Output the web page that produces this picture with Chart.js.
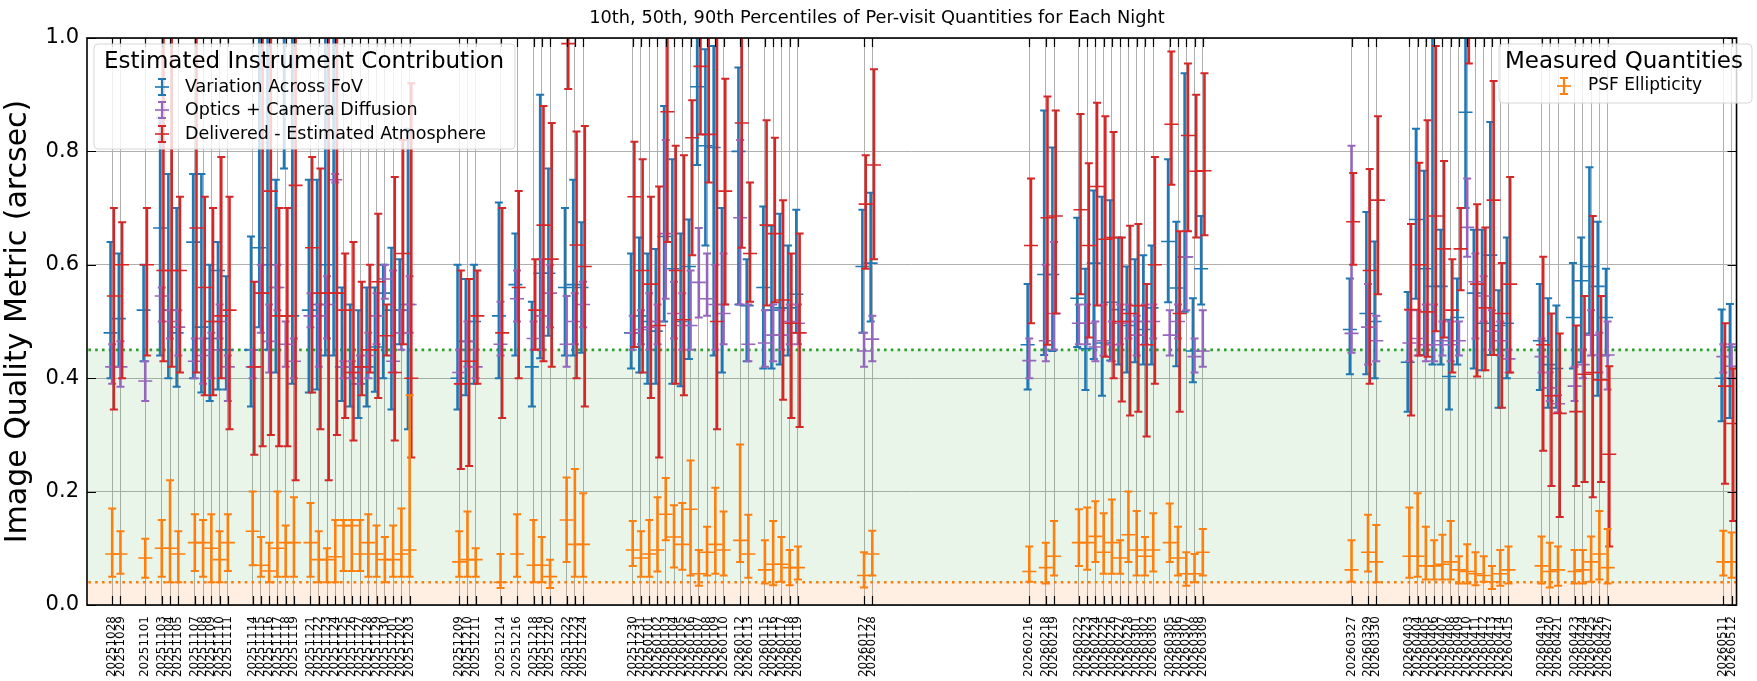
<!DOCTYPE html>
<html>
<head>
<meta charset="utf-8">
<title>Per-visit Quantities for Each Night</title>
<style>
  html, body { margin: 0; padding: 0; background: #fff; }
  #wrap { position: relative; width: 1757px; height: 681px; }
</style>
</head>
<body>
<div id="wrap"><canvas id="chart" width="1757" height="681"></canvas></div>

<script src="https://cdn.jsdelivr.net/npm/chart.js"></script>
<script>
  // nights (dayobs) shown on the x axis
  const nights = [
    "20251028","20251029","20251101","20251103","20251104","20251105","20251107","20251108","20251109","20251110","20251111",
    "20251114","20251115","20251116","20251117","20251118","20251119",
    "20251121","20251122","20251123","20251124","20251125","20251126","20251127","20251128","20251129","20251130","20251201","20251202","20251203",
    "20251209","20251210","20251211","20251214","20251216","20251218","20251219","20251220","20251222","20251223","20251224",
    "20251230","20251231","20260101","20260102","20260103","20260104","20260105","20260106","20260107","20260108","20260109","20260110",
    "20260112","20260113","20260115","20260116","20260117","20260118","20260119","20260127","20260128",
    "20260216","20260218","20260219","20260222","20260223","20260224","20260225","20260226","20260227","20260228","20260301","20260302","20260303",
    "20260305","20260306","20260307","20260308","20260309",
    "20260327","20260329","20260330","20260403","20260404","20260405","20260406","20260407","20260408","20260409","20260410","20260411","20260412","20260413","20260414","20260415",
    "20260419","20260420","20260421","20260423","20260424","20260425","20260426","20260427","20260511","20260512"
  ];

  // Variation Across FoV: 10th / 50th / 90th percentiles
  const fovLo = [.40,.42,.43,.44,.40,.385,.40,.375,.36,.38,.38, .35,.49,.45,.41,.77,.39,
    .375,.38,.44,.44,.36,.35,.33,.35,.376,.40,.345,.46,.31, .345,.37,.39,.40,.44,.35,.435,.475,.44,.44,.445,
    .417,.41,.39,.39,.50,.39,.386,.434,.776,.634,.44,.41, .53,.43,.417,.417,.424,.44,.48,.48,.50,
    .38,.441,.448,.455,.379,.434,.369,.431,.424,.41,.428,.424,.424, .534,.421,.517,.393,.53,
    .407,.407,.40,.341,.54,.441,.424,.424,.345,.424,.70,.417,.414,.441,.348,.40,
    .379,.348,.348,.417,.428,.479,.369,.44,.324,.33];
  const fovMed = [.48,.505,.52,.665,.52,.48,.64,.49,.47,.59,.45, .45,.63,.60,.56,1.05,.51,
    .52,.53,.60,.55,.42,.40,.39,.42,.455,.55,.52,.52,.53, .40,.465,.50,.51,.565,.42,.585,.585,.56,.565,.56,
    .48,.51,.50,.483,.65,.593,.50,.597,.914,.81,.807,.53, .80,.528,.56,.52,.524,.524,.548,.597,.603,
    .459,.583,.583,.541,.452,.603,.462,.534,.521,.493,.50,.486,.524, .641,.559,.614,.448,.593,
    .486,.514,.50,.428,.68,.593,.562,.562,.403,.507,.869,.55,.497,.617,.493,.497,
    .466,.424,.417,.507,.572,.597,.562,.507,.40,.455];
  const fovHi = [.64,.62,.60,.86,.76,.70,.76,.76,.60,.64,.58, .65,1.1,1.1,.75,1.1,1.1,
    .75,.75,1.1,1.1,.56,.53,.52,.56,.56,.60,.63,.61,.84, .60,.575,.60,.71,.655,.535,.90,.77,.70,.75,.675,
    .62,.648,.62,.628,.88,.786,.655,.68,1.1,.98,.986,.70, .948,.61,.703,.669,.69,.634,.697,.697,.727,
    .566,.872,.807,.683,.593,.731,.72,.714,.648,.597,.61,.617,.634, .786,.676,.938,.541,.686,
    .576,.693,.641,.552,.84,.766,1.1,.662,.503,.576,1.1,.662,.662,.852,.555,.648,
    .566,.541,.528,.603,.648,.772,.676,.593,.521,.531];

  // Optics + Camera Diffusion
  const optLo = [.39,.385,.36,.50,.47,.44,.40,.39,.40,.47,.36, .40,.48,.41,.52,.42,.40,
    .49,.42,.47,.745,.40,.40,.39,.40,.46,.54,.41,.45,.48, .39,.42,.40,.44,.50,.45,.45,.49,.42,.46,.49,
    .45,.46,.45,.46,.54,.47,.45,.45,.507,.51,.45,.46, .53,.43,.42,.43,.45,.46,.46,.42,.43,
    .40,.43,.45,.46,.46,.43,.44,.43,.46,.47,.44,.46,.47, .44,.47,.52,.41,.42,
    .445,.424,.43,.43,.44,.43,.43,.44,.43,.44,.614,.47,.50,.45,.44,.41,
    .41,.36,.34,.36,.40,.44,.41,.38,.41,.40];
  const optMed = [.42,.42,.395,.545,.50,.49,.43,.44,.45,.50,.42, .42,.55,.465,.56,.46,.43,
    .51,.51,.53,.75,.42,.41,.42,.44,.51,.575,.43,.48,.53, .41,.465,.42,.46,.54,.47,.51,.55,.46,.50,.53,
    .48,.486,.49,.50,.655,.514,.493,.493,.569,.54,.53,.514, .683,.46,.462,.476,.476,.50,.497,.448,.469,
    .431,.466,.514,.497,.497,.455,.466,.459,.497,.50,.476,.50,.50, .476,.50,.614,.438,.448,
    .479,.49,.466,.462,.47,.459,.459,.466,.459,.466,.666,.57,.545,.483,.466,.434,
    .438,.383,.355,.386,.424,.476,.441,.441,.438,.421];
  const optHi = [.46,.465,.43,.56,.52,.52,.47,.47,.48,.53,.44, .45,.60,.53,.60,.50,.47,
    .55,.53,.58,.76,.43,.43,.44,.48,.55,.60,.59,.52,.58, .45,.50,.45,.535,.59,.50,.61,.60,.545,.55,.57,
    .51,.52,.55,.53,.82,.57,.55,.59,.665,.62,.60,.62, .82,.53,.52,.53,.52,.53,.53,.48,.51,
    .47,.60,.64,.53,.53,.50,.53,.50,.53,.53,.51,.53,.53, .52,.53,.66,.47,.52,
    .81,.566,.51,.52,.52,.53,.53,.50,.50,.50,.752,.62,.58,.52,.50,.45,
    .47,.41,.37,.42,.45,.52,.48,.50,.46,.46];

  // Delivered - Estimated Atmosphere
  const delLo = [.345,.40,.44,.43,.42,.41,.41,.37,.37,.40,.31, .265,.28,.30,.28,.28,.22,
    .375,.31,.22,.30,.33,.29,.37,.41,.365,.44,.29,.46,.26, .24,.245,.39,.33,.40,.45,.43,.42,.91,.40,.35,
    .455,.41,.365,.26,.64,.39,.37,.617,.83,.745,.31,.53, .63,.535,.528,.534,.362,.33,.314,.593,.61,
    .497,.459,.514,.548,.472,.528,.438,.40,.359,.334,.341,.297,.39, .741,.341,.659,.648,.652,
    .60,.39,.548,.334,.44,.438,.483,.472,.41,.555,.955,.403,.414,.441,.348,.41,
    .272,.21,.155,.21,.217,.19,.217,.103,.214,.148];
  const delMed = [.545,.60,.60,.59,.59,.59,.665,.56,.50,.51,.52, .42,.55,.73,.51,.51,.74,
    .63,.55,.55,.55,.52,.41,.42,.45,.57,.475,.41,.62,.40, .39,.43,.51,.48,.56,.52,.67,.61,.99,.635,.597,
    .72,.59,.566,.493,.87,.59,.503,.824,.95,.83,.50,.73, .85,.62,.67,.655,.538,.497,.48,.707,.776,
    .634,.683,.686,.697,.634,.738,.645,.648,.50,.514,.528,.459,.60, .848,.514,.828,.765,.766,
    .676,.59,.714,.521,.60,.517,.686,.628,.52,.628,1.05,.566,.524,.714,.514,.566,
    .459,.369,.338,.341,.407,.41,.397,.266,.386,.32];
  const delHi = [.70,.675,.70,1.1,1.1,.72,1.1,.72,.70,.79,.72, .57,1.1,1.1,.70,.70,1.1,
    .79,.77,1.1,1.1,.62,.64,.57,.60,.69,.53,.755,.82,.92, .59,.575,.59,.70,.73,.61,.88,.85,1.1,.835,.845,
    .817,.786,.72,.738,1.1,.81,.793,.89,1.1,1.1,1.1,.928, 1.1,.745,.855,.824,.714,.62,.655,.793,.945,
    .752,.897,.872,.866,.779,.886,.862,.834,.648,.669,.672,.566,.79, .976,.659,.955,.90,.938,
    .762,.769,.862,.672,.78,.855,.986,.783,.61,.70,1.1,.707,.666,.924,.603,.755,
    .614,.514,.479,.493,.545,.686,.545,.421,.497,.417];

  // PSF Ellipticity
  const ellLo = [.05,.055,.048,.05,.04,.04,.06,.05,.04,.04,.06, .07,.05,.04,.05,.05,.05,
    .05,.04,.04,.04,.06,.06,.06,.05,.05,.04,.05,.05,.05, .05,.05,.05,.03,.05,.04,.04,.03,.076,.05,.05,
    .069,.05,.05,.059,.114,.066,.062,.052,.034,.052,.055,.052, .076,.048,.038,.035,.041,.035,.045,.031,.052,
    .041,.038,.052,.069,.062,.076,.055,.055,.055,.076,.052,.052,.059, .076,.052,.034,.04,.052,
    .041,.059,.04,.048,.05,.045,.045,.045,.045,.038,.038,.035,.041,.028,.034,.038,
    .038,.031,.034,.038,.038,.041,.045,.038,.052,.048];
  const ellMed = [.09,.09,.083,.10,.10,.09,.11,.11,.10,.08,.11, .13,.07,.06,.10,.11,.11,
    .11,.08,.08,.085,.14,.14,.09,.11,.09,.08,.08,.09,.097, .076,.08,.08,.04,.09,.07,.07,.05,.15,.107,.107,
    .097,.083,.09,.097,.16,.12,.107,.169,.055,.093,.107,.097, .114,.09,.062,.072,.072,.066,.066,.052,.09,
    .059,.066,.086,.11,.11,.121,.093,.11,.083,.124,.097,.086,.097, .11,.083,.055,.055,.093,
    .062,.093,.076,.086,.086,.069,.069,.072,.076,.062,.059,.055,.052,.041,.055,.062,
    .069,.059,.062,.059,.062,.076,.09,.066,.076,.076];
  const ellHi = [.17,.13,.117,.15,.22,.13,.16,.15,.16,.13,.16, .20,.12,.11,.20,.14,.19,
    .18,.13,.10,.15,.15,.15,.15,.16,.14,.12,.14,.17,.37, .13,.165,.10,.09,.16,.15,.12,.08,.225,.24,.197,
    .148,.13,.15,.19,.224,.176,.18,.255,.097,.138,.207,.165, .283,.159,.114,.148,.12,.097,.103,.093,.131,
    .103,.11,.148,.169,.172,.183,.162,.186,.114,.20,.166,.12,.162, .179,.138,.093,.09,.134,
    .114,.159,.141,.172,.197,.138,.114,.124,.148,.086,.107,.093,.086,.069,.097,.103,
    .121,.11,.103,.097,.097,.121,.166,.134,.131,.128];

  const yTicks = [0, 0.2, 0.4, 0.6, 0.8, 1.0];
  const goodLimit = 0.45;   // green dotted line
  const ellLimit = 0.04;    // orange dotted line

  const BLUE = '#1f77b4', PURPLE = '#9467bd', RED = '#d62728', ORANGE = '#ff7f0e', GREEN = '#2ca02c';
  const FONT = "'DejaVu Sans', 'Liberation Sans', sans-serif";

  Chart.defaults.font.family = FONT;
  Chart.defaults.color = '#000';

  function dayIndex(s) {
    const t = Date.UTC(+s.slice(0, 4), +s.slice(4, 6) - 1, +s.slice(6, 8));
    return Math.round((t - Date.UTC(2025, 9, 26)) / 86400000);
  }
  const days = nights.map(dayIndex);

  // one error bar series = vertical segments + caps + median ticks
  function errorbarSets(label, color, lo, med, hi, shift, order) {
    const xs = days.map(d => d + shift);
    const base = {
      label, order, clip: 0,
      borderColor: color, backgroundColor: color,
      pointBorderColor: color, pointBackgroundColor: color
    };
    return [
      Object.assign({}, base, {
        showLine: true, spanGaps: false, borderWidth: 2.6, pointRadius: 0, pointHoverRadius: 0,
        data: xs.flatMap((x, i) => [{ x, y: lo[i] }, { x, y: hi[i] }, { x, y: null }])
      }),
      Object.assign({}, base, {
        showLine: false, pointStyle: 'line', pointRadius: 4, pointHoverRadius: 4, pointBorderWidth: 2,
        data: xs.flatMap((x, i) => [{ x, y: lo[i] }, { x, y: hi[i] }])
      }),
      Object.assign({}, base, {
        showLine: false, pointStyle: 'line', pointRadius: 7, pointHoverRadius: 7, pointBorderWidth: 1.6,
        data: xs.map((x, i) => ({ x, y: med[i] }))
      })
    ];
  }

  const datasets = [
    {
      label: 'limit', order: 60, clip: 0, showLine: true, pointRadius: 0,
      data: [{ x: -5, y: goodLimit }, { x: 205, y: goodLimit }],
      borderColor: GREEN, borderWidth: 2.6, borderDash: [2.6, 4.2],
      fill: { value: ellLimit }, backgroundColor: 'rgba(44,160,44,0.11)'
    },
    {
      label: 'ell limit', order: 61, clip: 0, showLine: true, pointRadius: 0,
      data: [{ x: -5, y: ellLimit }, { x: 205, y: ellLimit }],
      borderColor: ORANGE, borderWidth: 2.6, borderDash: [2.6, 4.2],
      fill: 'origin', backgroundColor: 'rgba(255,127,14,0.12)'
    },
    ...errorbarSets('Variation Across FoV', BLUE, fovLo, fovMed, fovHi, -0.2, 40),
    ...errorbarSets('Optics + Camera Diffusion', PURPLE, optLo, optMed, optHi, 0, 30),
    ...errorbarSets('Delivered - Estimated Atmosphere', RED, delLo, delMed, delHi, 0.2, 20),
    ...errorbarSets('PSF Ellipticity', ORANGE, ellLo, ellMed, ellHi, 0, 10)
  ];

  function errIcon(ctx, x, y, color) {
    ctx.strokeStyle = color;
    ctx.lineWidth = 2.2;
    ctx.beginPath();
    ctx.moveTo(x, y - 8); ctx.lineTo(x, y + 8);
    ctx.moveTo(x - 4, y - 8); ctx.lineTo(x + 4, y - 8);
    ctx.moveTo(x - 4, y + 8); ctx.lineTo(x + 4, y + 8);
    ctx.stroke();
    ctx.lineWidth = 1.6;
    ctx.beginPath();
    ctx.moveTo(x - 7, y); ctx.lineTo(x + 7, y);
    ctx.stroke();
  }

  function legendBox(ctx, x, y, w, h) {
    ctx.beginPath();
    ctx.roundRect(x, y, w, h, 4);
    ctx.fillStyle = 'rgba(255,255,255,0.8)';
    ctx.fill();
    ctx.strokeStyle = '#d6d6d6';
    ctx.lineWidth = 1;
    ctx.stroke();
  }

  const decorations = {
    id: 'decorations',
    afterDatasetsDraw(chart) {
      const { ctx, chartArea: a, scales: { x, y } } = chart;
      ctx.save();
      ctx.strokeStyle = '#000';
      ctx.lineWidth = 1.2;
      ctx.beginPath();
      x.ticks.forEach(t => {
        const px = Math.round(x.getPixelForValue(t.value)) + 0.5;
        ctx.moveTo(px, a.top); ctx.lineTo(px, a.top + 9);
        ctx.moveTo(px, a.bottom); ctx.lineTo(px, a.bottom - 9);
      });
      y.ticks.forEach(t => {
        const py = Math.round(y.getPixelForValue(t.value)) + 0.5;
        ctx.moveTo(a.left, py); ctx.lineTo(a.left + 9, py);
        ctx.moveTo(a.right, py); ctx.lineTo(a.right - 9, py);
      });
      ctx.stroke();
      ctx.lineWidth = 1.6;
      ctx.strokeRect(a.left, a.top, a.right - a.left, a.bottom - a.top);
      ctx.restore();
    },
    afterDraw(chart) {
      const ctx = chart.ctx;
      ctx.save();
      ctx.textBaseline = 'middle';

      // title
      ctx.fillStyle = '#000';
      ctx.textAlign = 'center';
      ctx.font = '17.8px ' + FONT;
      ctx.fillText('10th, 50th, 90th Percentiles of Per-visit Quantities for Each Night', 877, 18);

      // instrument legend
      ctx.textAlign = 'left';
      legendBox(ctx, 94, 44, 421, 105);
      ctx.fillStyle = '#000';
      ctx.font = '23px ' + FONT;
      ctx.fillText('Estimated Instrument Contribution', 104, 62);
      ctx.font = '17.5px ' + FONT;
      [['Variation Across FoV', BLUE, 87], ['Optics + Camera Diffusion', PURPLE, 110],
       ['Delivered - Estimated Atmosphere', RED, 134]].forEach(([txt, col, yy]) => {
        errIcon(ctx, 162, yy, col);
        ctx.fillStyle = '#000';
        ctx.fillText(txt, 185, yy);
      });

      // measured legend
      legendBox(ctx, 1499, 44, 253, 59);
      ctx.fillStyle = '#000';
      ctx.font = '23px ' + FONT;
      ctx.fillText('Measured Quantities', 1505, 62);
      errIcon(ctx, 1564, 86, ORANGE);
      ctx.fillStyle = '#000';
      ctx.font = '17px ' + FONT;
      ctx.fillText('PSF Ellipticity', 1588, 86);
      ctx.restore();
    }
  };

  new Chart(document.getElementById('chart'), {
    type: 'scatter',
    data: { datasets },
    options: {
      responsive: false,
      animation: false,
      events: [],
      layout: { padding: { top: 38, right: 1, left: 0, bottom: 0 } },
      plugins: { legend: { display: false }, tooltip: { enabled: false }, title: { display: false } },
      scales: {
        x: {
          type: 'linear',
          min: -1.05,
          max: 198.6,
          afterFit: s => { s.height = 76; },
          afterBuildTicks: s => { s.ticks = days.map(v => ({ value: v })); },
          grid: { color: '#b0b0b0', lineWidth: 1, drawTicks: false },
          border: { display: false },
          ticks: {
            autoSkip: false, minRotation: 90, maxRotation: 90, padding: 11,
            font: { size: 12 }, color: '#000',
            callback: (v, i) => nights[i]
          }
        },
        y: {
          min: 0,
          max: 1,
          afterFit: s => { s.width = 87; },
          afterBuildTicks: s => { s.ticks = yTicks.map(v => ({ value: v })); },
          grid: { color: '#b0b0b0', lineWidth: 1, drawTicks: false },
          border: { display: false },
          ticks: { font: { size: 21 }, color: '#000', padding: 8, callback: v => v.toFixed(1) },
          title: { display: true, text: 'Image Quality Metric (arcsec)', font: { size: 30 }, color: '#000', padding: { top: 0, bottom: 2 } }
        }
      }
    },
    plugins: [decorations]
  });
</script>
</body>
</html>
